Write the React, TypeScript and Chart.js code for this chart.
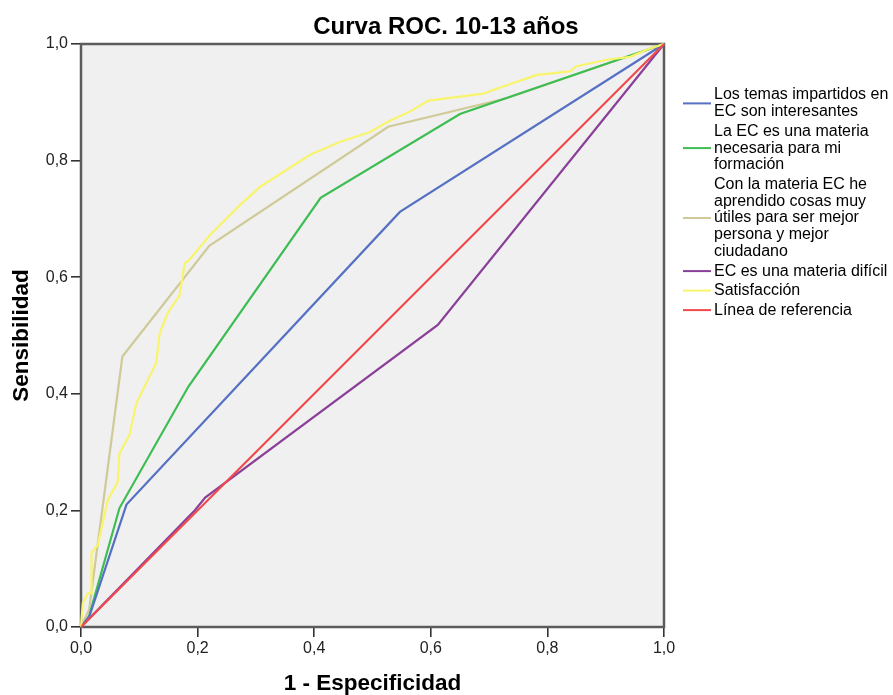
import { useEffect, useRef } from "react";
import { Chart, registerables } from "chart.js";

Chart.register(...registerables);

const chartTitle = "Curva ROC. 10-13 años";
const xAxisTitle = "1 - Especificidad";
const yAxisTitle = "Sensibilidad";
const tickStep = 0.2;

// Los temas impartidos en EC son interesantes
const temasFpr = [0, 0.015, 0.078, 0.547, 1];
const temasTpr = [0, 0.02, 0.21, 0.712, 1];

// La EC es una materia necesaria para mi formación
const necesariaFpr = [0, 0.012, 0.066, 0.184, 0.411, 0.65, 1];
const necesariaTpr = [0, 0.012, 0.204, 0.412, 0.736, 0.88, 1];

// Con la materia EC he aprendido cosas muy útiles...
const utilesFpr = [0, 0.014, 0.071, 0.22, 0.527, 0.73, 1];
const utilesTpr = [0, 0.03, 0.464, 0.654, 0.858, 0.907, 1];

// EC es una materia difícil
const dificilFpr = [0, 0.195, 0.213, 0.612, 1];
const dificilTpr = [0, 0.2, 0.222, 0.518, 1];

// Satisfacción
const satisFpr = [0, 0.003, 0.012, 0.018, 0.018, 0.029, 0.046, 0.063, 0.066, 0.083, 0.095, 0.129, 0.135, 0.149, 0.169, 0.178, 0.184, 0.221, 0.273, 0.307, 0.393, 0.444, 0.496, 0.527, 0.564, 0.596, 0.69, 0.724, 0.782, 0.839, 0.85, 0.902, 0.942, 0.97, 1];
const satisTpr = [0, 0.041, 0.058, 0.058, 0.127, 0.141, 0.218, 0.249, 0.298, 0.329, 0.384, 0.453, 0.504, 0.539, 0.569, 0.624, 0.628, 0.672, 0.724, 0.755, 0.81, 0.832, 0.849, 0.867, 0.884, 0.903, 0.915, 0.927, 0.947, 0.953, 0.962, 0.973, 0.978, 0.99, 1];

// Línea de referencia
const refFpr = [0, 1];
const refTpr = [0, 1];

const seriesLabels = [
  ["Los temas impartidos en", "EC son interesantes"],
  ["La EC es una materia", "necesaria para mi", "formación"],
  ["Con la materia EC he", "aprendido cosas muy", "útiles para ser mejor", "persona y mejor", "ciudadano"],
  ["EC es una materia difícil"],
  ["Satisfacción"],
  ["Línea de referencia"],
];

const seriesColors = ["#5670c4", "#3dbd52", "#cfca98", "#8a3f98", "#f8f46c", "#f24a4c"];
// drawing order (lower = on top)
const seriesOrder = [0, 0, 0, 0, -1, -2];

const FONT = "'Liberation Sans', Arial, sans-serif";

function toPoints(xs: number[], ys: number[]) {
  return xs.map((x, i) => ({ x, y: ys[i] }));
}

const fmt = (v: number | string) => Number(v).toFixed(1).replace(".", ",");

export default function App() {
  const canvasRef = useRef<HTMLCanvasElement | null>(null);

  useEffect(() => {
    if (!canvasRef.current) return;
    const seriesData = [
      toPoints(temasFpr, temasTpr),
      toPoints(necesariaFpr, necesariaTpr),
      toPoints(utilesFpr, utilesTpr),
      toPoints(dificilFpr, dificilTpr),
      toPoints(satisFpr, satisTpr),
      toPoints(refFpr, refTpr),
    ];

    const framePlugin = {
      id: "frame",
      beforeDraw(chart: any) {
        const { ctx, chartArea: a } = chart;
        ctx.save();
        ctx.fillStyle = "#f0f0f0";
        ctx.fillRect(a.left, a.top, a.right - a.left, a.bottom - a.top);
        ctx.restore();
      },
      beforeDatasetsDraw(chart: any) {
        const { ctx, chartArea: a } = chart;
        ctx.save();
        ctx.strokeStyle = "#5c5c5c";
        ctx.lineWidth = 2.5;
        ctx.strokeRect(a.left, a.top, a.right - a.left, a.bottom - a.top);
        ctx.restore();
      },
      afterDraw(chart: any) {
        const { ctx } = chart;
        ctx.save();
        ctx.fillStyle = "#000";
        ctx.font = `bold 24px ${FONT}`;
        ctx.textAlign = "center";
        ctx.textBaseline = "middle";
        ctx.fillText(chartTitle, 446, 27);
        const lineH = 16.8;
        const gap = 19.5;
        let y = 95;
        ctx.font = `16px ${FONT}`;
        ctx.textAlign = "left";
        chart.data.datasets.forEach((ds: any, i: number) => {
          const lines = seriesLabels[i];
          const first = y;
          lines.forEach((t: string, k: number) => {
            ctx.fillStyle = "#000";
            ctx.fillText(t, 714, y + k * lineH);
          });
          const last = y + (lines.length - 1) * lineH;
          const mid = (first + last) / 2;
          ctx.strokeStyle = ds.borderColor;
          ctx.lineWidth = 2;
          ctx.beginPath();
          ctx.moveTo(683, mid);
          ctx.lineTo(711, mid);
          ctx.stroke();
          y = last + gap;
        });
        ctx.restore();
      },
    };

    const chart = new Chart(canvasRef.current, {
      type: "line",
      data: {
        datasets: seriesData.map((d, i) => ({
          label: seriesLabels[i].join(" "),
          data: d,
          borderColor: seriesColors[i],
          backgroundColor: seriesColors[i],
          borderWidth: 2.2,
          pointRadius: 0,
          tension: 0,
          fill: false,
          clip: 4,
          order: seriesOrder[i],
        })),
      },
      options: {
        animation: false,
        responsive: false,
        maintainAspectRatio: false,
        parsing: false as any,
        layout: { padding: { left: 0, right: 229, top: 44, bottom: 0 } },
        plugins: {
          legend: { display: false },
          title: { display: false },
          tooltip: { enabled: false },
        },
        scales: {
          x: {
            type: "linear",
            min: 0,
            max: 1,
            afterFit: (s: any) => {
              s.height = 68;
            },
            ticks: {
              stepSize: tickStep,
              callback: (v: any) => fmt(v),
              color: "#222",
              font: { family: FONT, size: 16 },
              padding: 2,
              maxRotation: 0,
            },
            grid: { drawOnChartArea: false, drawTicks: true, tickLength: 10, color: "#333", lineWidth: 1.6 },
            border: { display: false },
            title: {
              display: true,
              text: xAxisTitle,
              color: "#000",
              font: { family: FONT, size: 22.5, weight: "bold", lineHeight: 1 },
              padding: { top: 0, bottom: 0 },
            },
          },
          y: {
            type: "linear",
            min: 0,
            max: 1,
            afterFit: (s: any) => {
              s.width = 81;
            },
            ticks: {
              stepSize: tickStep,
              callback: (v: any) => fmt(v),
              color: "#222",
              font: { family: FONT, size: 16 },
              padding: 3,
            },
            grid: { drawOnChartArea: false, drawTicks: true, tickLength: 10, color: "#333", lineWidth: 1.6 },
            border: { display: false },
            title: {
              display: true,
              text: yAxisTitle,
              color: "#000",
              font: { family: FONT, size: 22.5, weight: "bold", lineHeight: 1 },
              padding: { top: 10.75, bottom: 0 },
            },
          },
        },
      } as any,
      plugins: [framePlugin],
    });
    return () => chart.destroy();
  }, []);

  return (
    <div style={{ position: "absolute", left: 0, top: 0, width: 893, height: 695, background: "#fff" }}>
      <canvas ref={canvasRef} width={893} height={695} style={{ display: "block" }} />
    </div>
  );
}
